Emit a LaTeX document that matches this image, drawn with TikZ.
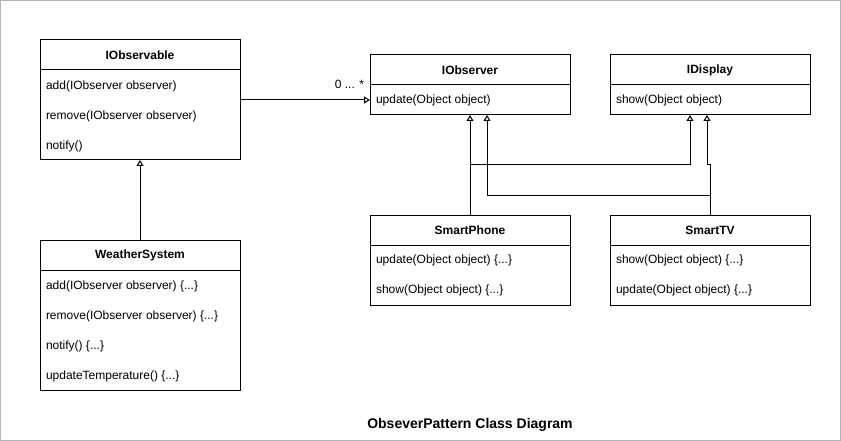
\documentclass[tikz,border=0pt]{standalone}
\usepackage{fontspec}
\setmainfont{Liberation Sans}
\usetikzlibrary{arrows.meta}
\begin{document}
\begin{tikzpicture}[x=1pt,y=-1pt,
  every node/.style={inner sep=0pt,outer sep=0pt,font=\fontsize{12}{14}\selectfont},
  classhead/.style={draw,line width=1pt,minimum width=200pt,minimum height=30pt,font=\fontsize{12}{14}\selectfont\bfseries},
  classbody/.style={draw,line width=1pt,minimum width=200pt},
  member/.style={anchor=west},
  gen/.style={line width=1pt,-{Triangle[open,length=6pt,width=7pt]}},
  title/.style={font=\fontsize{14}{16}\selectfont\bfseries}
]
\useasboundingbox (0,0) rectangle (841,441);
\draw[line width=1pt,color={rgb,255:red,180;green,180;blue,180}] (0.5,0.5) rectangle (840.5,440.5);

% IObservable
\node[classhead] (obsH) at (140,55) {IObservable};
\node[classbody,minimum height=90pt] (obsB) at (140,115) {};
\node[member] (obs1) at (46,86) {add(IObserver observer)};
\node[member] (obs2) at (46,116) {remove(IObserver observer)};
\node[member] (obs3) at (46,146) {notify()};

% WeatherSystem
\node[classhead] (wsH) at (140,255) {WeatherSystem};
\node[classbody,minimum height=120pt] (wsB) at (140,330) {};
\node[member] (ws1) at (46,286) {add(IObserver observer) \{...\}};
\node[member] (ws2) at (46,316) {remove(IObserver observer) \{...\}};
\node[member] (ws3) at (46,346) {notify() \{...\}};
\node[member] (ws4) at (46,376) {updateTemperature() \{...\}};

% IObserver
\node[classhead] (ovH) at (470,70) {IObserver};
\node[classbody,minimum height=30pt] (ovB) at (470,100) {};
\node[member] (ov1) at (376,100) {update(Object object)};

% IDisplay
\node[classhead] (dpH) at (710,70) {IDisplay};
\node[classbody,minimum height=30pt] (dpB) at (710,100) {};
\node[member] (dp1) at (616,100) {show(Object object)};

% SmartPhone
\node[classhead] (spH) at (470,230) {SmartPhone};
\node[classbody,minimum height=60pt] (spB) at (470,275) {};
\node[member] (sp1) at (376,260) {update(Object object) \{...\}};
\node[member] (sp2) at (376,290) {show(Object object) \{...\}};

% SmartTV
\node[classhead] (tvH) at (710,230) {SmartTV};
\node[classbody,minimum height=60pt] (tvB) at (710,275) {};
\node[member] (tv1) at (616,260) {show(Object object) \{...\}};
\node[member] (tv2) at (616,290) {update(Object object) \{...\}};

% connector end points
\path ([xshift=17pt]ovB.south) coordinate (ovIn2);
\path ([xshift=-20pt]dpB.south) coordinate (dpIn1);
\path ([xshift=-3pt]dpB.south) coordinate (dpIn2);

% connectors
\draw[gen] (obsB.east |- ovB.west) -- (ovB.west);
\node[anchor=east] (mult) at (364,84) {0 ... *};
\draw[gen] (wsH.north) -- (obsB.south);
\draw[gen] (spH.north) -- (ovB.south);
\draw[gen] (spH.north) -- ++(0,-50) -| (dpIn1);
\draw[gen] (tvH.north) -- ++(0,-20) -| (ovIn2);
\draw[gen] (tvH.north) -- ++(0,-50) -- ++(-3,0) -- (dpIn2);

% title
\node[title] (ttl) at (470,425) {ObseverPattern Class Diagram};
\end{tikzpicture}
\end{document}
